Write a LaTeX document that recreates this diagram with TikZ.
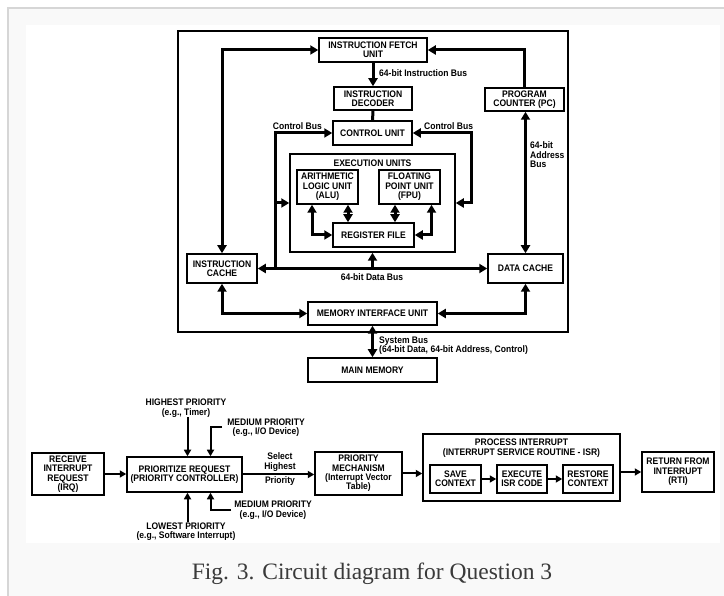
\documentclass[tikz,border=0pt]{standalone}
\usepackage{fontspec}
\setmainfont{Liberation Serif}
\newfontfamily\blkfont[FakeStretch=0.9]{Liberation Sans}
\usetikzlibrary{arrows.meta,positioning}
\definecolor{mframe}{RGB}{214,214,214}
\definecolor{mpanel}{RGB}{249,249,249}
\definecolor{mcap}{RGB}{58,58,58}

\begin{document}
\begin{tikzpicture}[x=1pt,y=-1pt,
  font=\blkfont\bfseries\fontsize{9.5}{9.4}\selectfont,
  blk/.style={draw,line width=1.5pt,align=center,inner sep=0pt,fill=white},
  lbl/.style={inner sep=0pt,align=center},
  bus/.style={line width=3pt,>={Triangle[length=8pt,width=9pt]}},
  flow/.style={line width=2pt,->,>={Triangle[length=6.5pt,width=7pt]}}]
  % panel and frame
  \useasboundingbox (0,0) rectangle (724,596);
  \fill[mpanel] (8,8) rectangle (724,596);
  \draw[mframe,line width=1.5pt] (8,596) -- (8,8) -- (724,8);
  \fill[white] (26,25) rectangle (720,543);

  % processor
  \node[blk,minimum width=390,minimum height=301] (cpu) at (373,181.5) {};
  \node[blk,minimum width=108,minimum height=24] (ifu) at (373,50)
    {INSTRUCTION FETCH\\UNIT};
  \node[blk,minimum width=78,minimum height=23] (dec) at (373,98.5)
    {INSTRUCTION\\DECODER};
  \node[blk,minimum width=79,minimum height=24] (cu) at (372.5,133)
    {CONTROL UNIT};
  \node[blk,minimum width=79,minimum height=23] (pc) at (524.5,99.5)
    {PROGRAM\\COUNTER (PC)};
  \node[blk,minimum width=165,minimum height=98] (exu) at (372.5,203) {};
  \node[lbl] (exutitle) at (372.5,163) {EXECUTION UNITS};
  \node[blk,minimum width=61,minimum height=34] (alu) at (327.5,187)
    {ARITHMETIC\\LOGIC UNIT\\(ALU)};
  \node[blk,minimum width=61,minimum height=34] (fpu) at (409.5,187)
    {FLOATING\\POINT UNIT\\(FPU)};
  \node[blk,minimum width=81,minimum height=24] (rf) at (373.5,235)
    {REGISTER FILE};
  \node[blk,minimum width=70,minimum height=29] (ic) at (222,268.5)
    {INSTRUCTION\\CACHE};
  \node[blk,minimum width=75,minimum height=29] (dc) at (525.5,268.5)
    {DATA CACHE};
  \node[blk,minimum width=129,minimum height=23] (miu) at (372.5,313.5)
    {MEMORY INTERFACE UNIT};
  \node[blk,minimum width=129,minimum height=24] (mm) at (372.5,370)
    {MAIN MEMORY};
  \coordinate (lbus) at (275,268.5);

  \draw[bus,->] (ifu) -- (dec);
  \draw[bus] (dec) -- (cu);
  \draw[bus,<->] (ic.north) |- (ifu.west);
  \draw[bus,->] (pc.north) |- (ifu.east);
  \draw[bus,<->] (dc.north) -- (dc.north |- pc.south);
  \draw[bus,<->] (ic.east) -- (dc.west);
  \draw[bus,->] (exu.south |- lbus) -- (exu.south);
  \draw[bus,->] (lbus) |- (cu.west);
  \draw[bus,->] (lbus |- exu.west) -- (exu.west);
  \draw[bus,<->] (exu.east) -- ++(16,0) |- (cu.east);
  \draw[bus,<->] ([xshift=-25.5pt]rf.north) -- ([xshift=-25.5pt]rf.north |- alu.south);
  \draw[bus,<->] ([xshift=21.5pt]rf.north) -- ([xshift=21.5pt]rf.north |- fpu.south);
  \draw[bus,<->] ([xshift=-15.5pt]alu.south) |- (rf.west);
  \draw[bus,<->] ([xshift=22pt]fpu.south) |- (rf.east);
  \draw[bus,<->] (ic.south) |- (miu.west);
  \draw[bus,<->] (dc.south) |- (miu.east);
  \draw[bus,<->] (miu) -- (mm);

  \node[lbl,anchor=west] (ibuslbl) at (379,73) {64-bit Instruction Bus};
  \node[lbl,anchor=east] (cbuslbl) at (322,126) {Control Bus};
  \node[lbl,anchor=west] (cbuslbr) at (424,126) {Control Bus};
  \node[lbl,anchor=west,align=left] (abuslbl) at (530,155) {64-bit\\Address\\Bus};
  \node[lbl] (dbuslbl) at (372,277.5) {64-bit Data Bus};
  \node[lbl,anchor=west,align=left] (sbuslbl) at (379,345.5)
    {System Bus\\(64-bit Data, 64-bit Address, Control)};

  % interrupt handling
  \node[blk,minimum width=72,minimum height=42] (irq) at (68,474)
    {RECEIVE\\INTERRUPT\\REQUEST\\(IRQ)};
  \node[blk,minimum width=115,minimum height=35] (prio) at (184.5,474.5)
    {PRIORITIZE REQUEST\\(PRIORITY CONTROLLER)};
  \node[blk,minimum width=87,minimum height=43] (pm) at (358.5,473.5)
    {PRIORITY\\MECHANISM\\(Interrupt Vector\\Table)};
  \node[blk,minimum width=197,minimum height=67] (proc) at (521.5,467.5) {};
  \node[lbl] (proctitle) at (521.5,448)
    {PROCESS INTERRUPT\\(INTERRUPT SERVICE ROUTINE - ISR)};
  \node[blk,minimum width=51,minimum height=28] (save) at (455.5,479)
    {SAVE\\CONTEXT};
  \node[blk,minimum width=50,minimum height=28] (exe) at (522,479)
    {EXECUTE\\ISR CODE};
  \node[blk,minimum width=50,minimum height=28] (rest) at (588,479)
    {RESTORE\\CONTEXT};
  \node[blk,minimum width=72,minimum height=40] (rti) at (678,472)
    {RETURN FROM\\INTERRUPT\\(RTI)};

  \node[lbl] (hplbl) at (186,408) {HIGHEST PRIORITY\\(e.g., Timer)};
  \node[lbl] (mptlbl) at (266,427.5) {MEDIUM PRIORITY\\(e.g., I/O Device)};
  \node[lbl] (lplbl) at (186,531.5) {LOWEST PRIORITY\\(e.g., Software Interrupt)};
  \node[lbl] (mpblbl) at (273,510) {MEDIUM PRIORITY\\(e.g., I/O Device)};
  \node[lbl] (sellbl) at (280,462) {Select\\Highest};
  \node[lbl] (sellbb) at (280,481) {Priority};

  \draw[flow] (irq.east) -- (irq.east -| prio.west);
  \draw[flow] (prio.east) -- (prio.east -| pm.west);
  \draw[flow] (pm.east) -- (pm.east -| proc.west);
  \draw[flow] (save) -- (exe);
  \draw[flow] (exe) -- (rest);
  \draw[flow] (proc.east |- rti.west) -- (rti.west);
  \draw[flow] ([xshift=1.5pt]hplbl.south) -- ([xshift=1.5pt]hplbl.south |- prio.north);
  \draw[flow] ([xshift=-5pt]mptlbl.west) -| ([xshift=26pt]prio.north);
  \draw[flow] ([xshift=1.5pt]lplbl.north) -- ([xshift=1.5pt]lplbl.north |- prio.south);
  \draw[flow] ([xshift=-3pt]mpblbl.west) -| ([xshift=26pt]prio.south);

  \node[font=\rmfamily\mdseries\fontsize{23.5}{26}\selectfont,text=mcap,
    anchor=base,inner sep=0pt] (cap) at (372,579)
    {Fig. 3. Circuit diagram for Question 3};
\end{tikzpicture}
\end{document}
